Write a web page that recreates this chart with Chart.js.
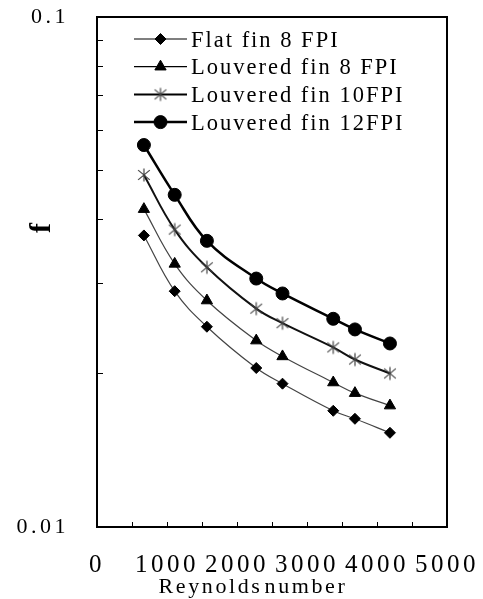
<!DOCTYPE html>
<html>
<head>
<meta charset="utf-8">
<script src="https://cdn.jsdelivr.net/npm/chart.js@4/dist/chart.umd.min.js"></script>
<style>
html, body { margin: 0; padding: 0; background: #fff; }
canvas { display: block; }
</style>
</head>
<body>
<canvas id="c" width="483" height="599"></canvas>
<script>
// ---- data ----
const reynolds = [670, 1110, 1570, 2275, 2650, 3375, 3685, 4185];
const flatFin8 = [0.0373, 0.0290, 0.0247, 0.0205, 0.0191, 0.0169, 0.0163, 0.0153];
const louvered8 = [0.0420, 0.0328, 0.0278, 0.0232, 0.0216, 0.0192, 0.0183, 0.0173];
const louvered10 = [0.0490, 0.0383, 0.0323, 0.0268, 0.0251, 0.0225, 0.0213, 0.0200];
const louvered12 = [0.0561, 0.0448, 0.0364, 0.0307, 0.0287, 0.0256, 0.0244, 0.0229];
const seriesLabels = ['Flat fin 8 FPI', 'Louvered fin 8 FPI', 'Louvered fin 10FPI', 'Louvered fin 12FPI'];
const xTickValues = [0, 500, 1000, 1500, 2000, 2500, 3000, 3500, 4000, 4500, 5000];
const xTickLabels = ['0', '', '1000', '', '2000', '', '3000', '', '4000', '', '5000'];
const yTickValues = [0.01, 0.02, 0.03, 0.04, 0.05, 0.06, 0.07, 0.08, 0.09, 0.1];
const yTickLabels = ['0.01', '', '', '', '', '', '', '', '', '0.1'];
const xTitle = 'Reynolds number';
const yTitle = 'f';

const SERIF = '"Liberation Serif", "Times New Roman", serif';

function makeStar(r, color, lw) {
  const s = 2 * Math.ceil(r) + 4;
  const c = document.createElement('canvas');
  c.width = s; c.height = s;
  const g = c.getContext('2d');
  const m = s / 2;
  g.strokeStyle = color;
  g.lineWidth = lw;
  g.beginPath();
  g.moveTo(m, m - r); g.lineTo(m, m + r);
  g.moveTo(m - r * 0.9, m - r * 0.75); g.lineTo(m + r * 0.9, m + r * 0.75);
  g.moveTo(m - r * 0.9, m + r * 0.75); g.lineTo(m + r * 0.9, m - r * 0.75);
  g.stroke();
  return c;
}
const starImg = makeStar(6.5, '#444', 1.2);

function toPoints(ys) { return reynolds.map((x, i) => ({ x: x, y: ys[i] })); }

const datasets = [
  { label: seriesLabels[0], data: toPoints(flatFin8), borderColor: '#444', borderWidth: 1.2,
    pointStyle: 'rectRot', pointRadius: 5.5, pointBackgroundColor: '#000', pointBorderColor: '#000', pointBorderWidth: 1 },
  { label: seriesLabels[1], data: toPoints(louvered8), borderColor: '#444', borderWidth: 1.2,
    pointStyle: 'triangle', pointRadius: 6.5, pointBackgroundColor: '#000', pointBorderColor: '#000', pointBorderWidth: 1 },
  { label: seriesLabels[2], data: toPoints(louvered10), borderColor: '#111', borderWidth: 2,
    pointStyle: starImg, pointRadius: 6.5, pointBackgroundColor: '#444', pointBorderColor: '#444', pointBorderWidth: 1 },
  { label: seriesLabels[3], data: toPoints(louvered12), borderColor: '#000', borderWidth: 2.5,
    pointStyle: 'circle', pointRadius: 6.5, pointBackgroundColor: '#000', pointBorderColor: '#000', pointBorderWidth: 1 }
];
datasets.forEach(d => { d.tension = 0.4; d.fill = false; d.showLine = true; });

const framePlugin = {
  id: 'frame',
  beforeDraw(chart) {
    chart.ctx.letterSpacing = '3.5px';
  },
  afterDraw(chart) {
    const ctx = chart.ctx;
    const a = chart.chartArea;
    ctx.save();
    ctx.letterSpacing = '0px';
    // plot frame
    ctx.strokeStyle = '#000';
    ctx.lineWidth = 2;
    ctx.strokeRect(a.left, a.top, a.right - a.left, a.bottom - a.top);

    // legend (inside plot, top-left)
    const lx0 = a.left + 37, lx1 = a.left + 90, mx = a.left + 63.5, tx = a.left + 94;
    const rowTop = a.top + 22, rowGap = 27.7;
    chart.data.datasets.forEach((ds, i) => {
      const y = rowTop + i * rowGap;
      ctx.strokeStyle = '#000';
      ctx.lineWidth = ds.borderWidth;
      ctx.beginPath(); ctx.moveTo(lx0, y); ctx.lineTo(lx1, y); ctx.stroke();
      ctx.fillStyle = ds.pointBackgroundColor;
      ctx.strokeStyle = ds.pointBorderColor;
      ctx.lineWidth = ds.pointBorderWidth;
      Chart.helpers.drawPoint(ctx, { pointStyle: ds.pointStyle, radius: ds.pointRadius, borderWidth: ds.pointBorderWidth, rotation: 0 }, mx, y);
      ctx.fillStyle = '#000';
      ctx.font = '22.5px ' + SERIF;
      ctx.letterSpacing = '2px';
      ctx.textAlign = 'left';
      ctx.textBaseline = 'alphabetic';
      ctx.fillText(ds.label, tx, y + 7.5);
      ctx.letterSpacing = '0px';
    });

    // x axis title
    ctx.fillStyle = '#000';
    ctx.font = '22px ' + SERIF;
    ctx.letterSpacing = '2.6px';
    try { ctx.wordSpacing = '-6px'; } catch (e) {}
    ctx.textAlign = 'center';
    ctx.textBaseline = 'alphabetic';
    ctx.fillText(xTitle, 253, 593);
    ctx.letterSpacing = '0px';
    try { ctx.wordSpacing = '0px'; } catch (e) {}

    // y axis title
    ctx.translate(42, 228);
    ctx.rotate(-Math.PI / 2);
    ctx.font = 'bold 30px ' + SERIF;
    ctx.textAlign = 'center';
    ctx.textBaseline = 'middle';
    ctx.fillText(yTitle, 0, 0);
    ctx.restore();
  }
};

new Chart(document.getElementById('c'), {
  type: 'scatter',
  data: { datasets: datasets },
  options: {
    responsive: false,
    animation: false,
    devicePixelRatio: 1,
    layout: { padding: { left: 0, top: 17, right: 36, bottom: 0 } },
    plugins: { legend: { display: false }, tooltip: { enabled: false } },
    scales: {
      x: {
        type: 'linear', position: 'bottom', min: 0, max: 5000,
        afterBuildTicks(scale) { scale.ticks = xTickValues.map(v => ({ value: v })); },
        afterFit(scale) { scale.height = 72; scale.paddingLeft = 0; scale.paddingRight = 0; },
        ticks: {
          autoSkip: false, maxRotation: 0, minRotation: 0, padding: 28,
          color: '#000', font: { family: SERIF, size: 25 },
          callback(v) { const i = xTickValues.indexOf(v); return i >= 0 ? xTickLabels[i] : ''; }
        },
        grid: { drawOnChartArea: false, drawTicks: true, tickLength: -5, color: '#000', lineWidth: 1 },
        border: { display: false },
        title: { display: false }
      },
      y: {
        type: 'logarithmic', position: 'left', min: 0.01, max: 0.1,
        afterBuildTicks(scale) { scale.ticks = yTickValues.map(v => ({ value: v })); },
        afterFit(scale) { scale.width = 97; scale.paddingTop = 0; scale.paddingBottom = 0; },
        ticks: {
          autoSkip: false, padding: 34,
          color: '#000', font: { family: SERIF, size: 22 },
          callback(v) { const i = yTickValues.indexOf(v); return i >= 0 ? yTickLabels[i] : ''; }
        },
        grid: { drawOnChartArea: false, drawTicks: true, tickLength: -6, color: '#000', lineWidth: 1 },
        border: { display: false },
        title: { display: false }
      }
    }
  },
  plugins: [framePlugin]
});
</script>
</body>
</html>
